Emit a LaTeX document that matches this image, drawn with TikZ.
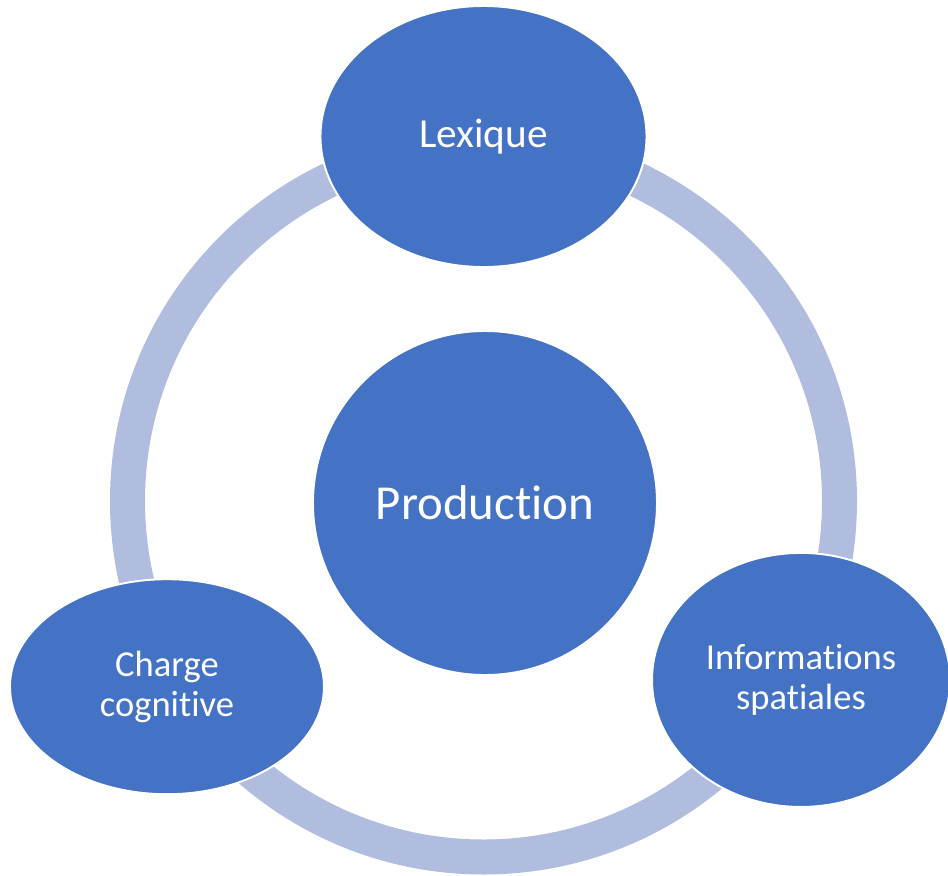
\documentclass[tikz,border=0pt]{standalone}
\usepackage{fontspec}
\setmainfont{Carlito}[Ligatures=NoCommon]
\usepackage{tikz}
\usetikzlibrary{positioning,shapes.geometric,calc}
\usepackage{xcolor}
\definecolor{deepblue}{HTML}{4472C4}
\definecolor{paleblue}{HTML}{B0BDDF}

\begin{document}
\begin{tikzpicture}[
    hub/.style={circle, fill=deepblue, draw=white, line width=1.1pt, minimum size=6.88cm,
                inner sep=0pt, text=white, font=\fontsize{27.8}{30}\selectfont},
    topic/.style={ellipse, fill=deepblue, draw=white, line width=1.1pt, inner sep=0pt,
                  align=center, text=white, font=\fontsize{20.8}{22.7}\selectfont},
    ring/.style={draw=paleblue, line width=0.7cm}
]
  \useasboundingbox (0,0) rectangle (18.96,-17.52);

  % Cycle ring
  \coordinate (c) at (9.67,-10.02);
  \draw[ring] (c) circle[radius=7.12];

  % Centre
  \node[hub] (prod) at (9.70,-10.06) {Production};

  % Satellites on the ring
  \node[topic, minimum width=6.52cm, minimum height=5.22cm,
        font=\fontsize{23.5}{26}\selectfont] (lex) at ($(c)+(90:7.29)$) {Lexique};
  \node[topic, minimum width=6.28cm, minimum height=4.3cm] (charge) at ($(c)+(210.4:7.34)$) {Charge\\cognitive};
  \node[topic, minimum width=5.96cm, minimum height=5.08cm] (info) at ($(c)+(-29.4:7.29)$) {Informations\\spatiales};
\end{tikzpicture}
\end{document}
